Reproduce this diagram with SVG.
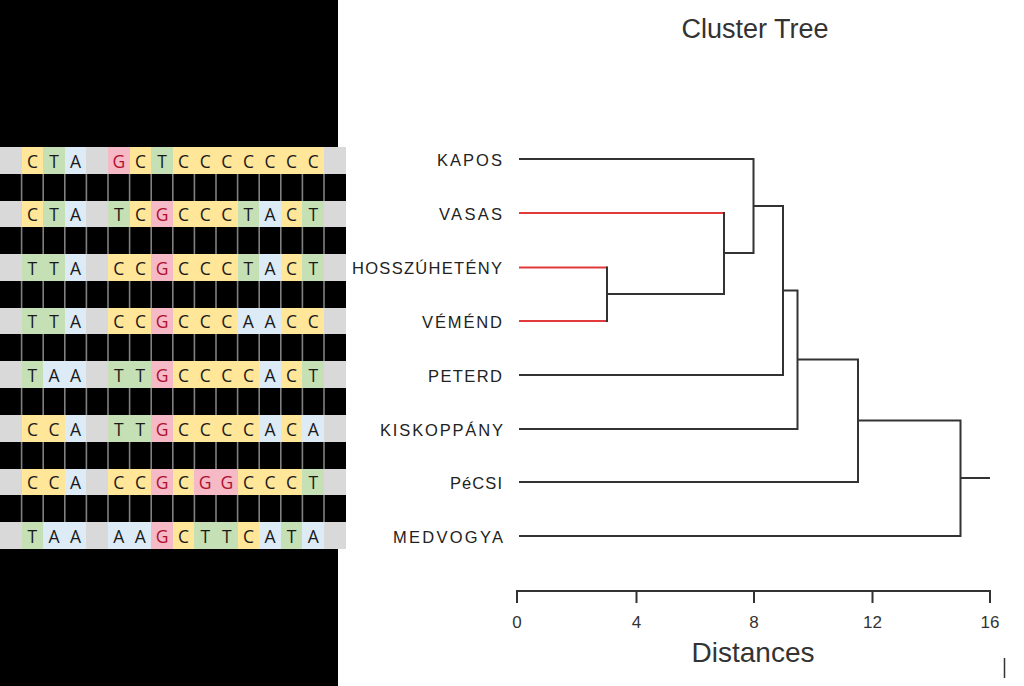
<svg xmlns="http://www.w3.org/2000/svg" width="1024" height="686" viewBox="0 0 1024 686">
<style>
rect{shape-rendering:crispEdges}
.bg{fill:#D9D9D9}
.c{fill:#FFE699}
.t{fill:#C5E0B4}
.a{fill:#DDEBF7}
.g{fill:#F6B9C6}
.l{font-family:"Open Sans","Liberation Sans",sans-serif;font-size:17.5px;fill:#1a1a1a;text-anchor:middle}
.lg{fill:#B0102E}
.lbl{font-family:"Liberation Sans",Arial,sans-serif;font-size:16.5px;fill:#222}
.tick{font-family:"Liberation Sans",Arial,sans-serif;font-size:17px;fill:#333;text-anchor:middle}
.ln{fill:none;stroke:#333;stroke-width:2}
.red{fill:none;stroke:#E23A3A;stroke-width:2}
</style>
<rect x="0" y="0" width="1024" height="686" fill="#FFFFFF"/>
<rect x="0" y="0" width="338" height="686" fill="#000000"/>
<g id="alignment">
<rect x="0" y="147" width="345.6" height="402" fill="#000000"/>
<path d="M21.6 147V549M43.2 147V549M64.8 147V549M86.4 147V549M108 147V549M129.6 147V549M151.2 147V549M172.8 147V549M194.4 147V549M216 147V549M237.6 147V549M259.2 147V549M280.8 147V549M302.4 147V549M324 147V549" stroke="#808080" stroke-width="1.6" fill="none"/>
<g id="seq1" transform="translate(0,147)">
<rect class="bg" width="345.6" height="26.5"/>
<rect class="c" x="21.6" width="21.6" height="26.5"/><rect class="t" x="43.2" width="21.6" height="26.5"/><rect class="a" x="64.8" width="21.6" height="26.5"/>
<rect class="g" x="108" width="21.6" height="26.5"/><rect class="c" x="129.6" width="21.6" height="26.5"/><rect class="t" x="151.2" width="21.6" height="26.5"/><rect class="c" x="172.8" width="151.2" height="26.5"/>
<text class="l" y="20.5"><tspan x="32.4">C</tspan><tspan x="54">T</tspan><tspan x="75.6">A</tspan><tspan x="118.8" class="lg">G</tspan><tspan x="140.4">C</tspan><tspan x="162">T</tspan><tspan x="183.6">C</tspan><tspan x="205.2">C</tspan><tspan x="226.8">C</tspan><tspan x="248.4">C</tspan><tspan x="270">C</tspan><tspan x="291.6">C</tspan><tspan x="313.2">C</tspan></text>
</g>
<g id="seq2" transform="translate(0,200.6)">
<rect class="bg" width="345.6" height="26.5"/>
<rect class="c" x="21.6" width="21.6" height="26.5"/><rect class="t" x="43.2" width="21.6" height="26.5"/><rect class="a" x="64.8" width="21.6" height="26.5"/>
<rect class="t" x="108" width="21.6" height="26.5"/><rect class="c" x="129.6" width="21.6" height="26.5"/><rect class="g" x="151.2" width="21.6" height="26.5"/><rect class="c" x="172.8" width="64.8" height="26.5"/><rect class="t" x="237.6" width="21.6" height="26.5"/><rect class="a" x="259.2" width="21.6" height="26.5"/><rect class="c" x="280.8" width="21.6" height="26.5"/><rect class="t" x="302.4" width="21.6" height="26.5"/>
<text class="l" y="20.5"><tspan x="32.4">C</tspan><tspan x="54">T</tspan><tspan x="75.6">A</tspan><tspan x="118.8">T</tspan><tspan x="140.4">C</tspan><tspan x="162" class="lg">G</tspan><tspan x="183.6">C</tspan><tspan x="205.2">C</tspan><tspan x="226.8">C</tspan><tspan x="248.4">T</tspan><tspan x="270">A</tspan><tspan x="291.6">C</tspan><tspan x="313.2">T</tspan></text>
</g>
<g id="seq3" transform="translate(0,254.2)">
<rect class="bg" width="345.6" height="26.5"/>
<rect class="t" x="21.6" width="43.2" height="26.5"/><rect class="a" x="64.8" width="21.6" height="26.5"/>
<rect class="c" x="108" width="43.2" height="26.5"/><rect class="g" x="151.2" width="21.6" height="26.5"/><rect class="c" x="172.8" width="64.8" height="26.5"/><rect class="t" x="237.6" width="21.6" height="26.5"/><rect class="a" x="259.2" width="21.6" height="26.5"/><rect class="c" x="280.8" width="21.6" height="26.5"/><rect class="t" x="302.4" width="21.6" height="26.5"/>
<text class="l" y="20.5"><tspan x="32.4">T</tspan><tspan x="54">T</tspan><tspan x="75.6">A</tspan><tspan x="118.8">C</tspan><tspan x="140.4">C</tspan><tspan x="162" class="lg">G</tspan><tspan x="183.6">C</tspan><tspan x="205.2">C</tspan><tspan x="226.8">C</tspan><tspan x="248.4">T</tspan><tspan x="270">A</tspan><tspan x="291.6">C</tspan><tspan x="313.2">T</tspan></text>
</g>
<g id="seq4" transform="translate(0,307.8)">
<rect class="bg" width="345.6" height="26.5"/>
<rect class="t" x="21.6" width="43.2" height="26.5"/><rect class="a" x="64.8" width="21.6" height="26.5"/>
<rect class="c" x="108" width="43.2" height="26.5"/><rect class="g" x="151.2" width="21.6" height="26.5"/><rect class="c" x="172.8" width="64.8" height="26.5"/><rect class="a" x="237.6" width="43.2" height="26.5"/><rect class="c" x="280.8" width="43.2" height="26.5"/>
<text class="l" y="20.5"><tspan x="32.4">T</tspan><tspan x="54">T</tspan><tspan x="75.6">A</tspan><tspan x="118.8">C</tspan><tspan x="140.4">C</tspan><tspan x="162" class="lg">G</tspan><tspan x="183.6">C</tspan><tspan x="205.2">C</tspan><tspan x="226.8">C</tspan><tspan x="248.4">A</tspan><tspan x="270">A</tspan><tspan x="291.6">C</tspan><tspan x="313.2">C</tspan></text>
</g>
<g id="seq5" transform="translate(0,361.4)">
<rect class="bg" width="345.6" height="26.5"/>
<rect class="t" x="21.6" width="21.6" height="26.5"/><rect class="a" x="43.2" width="43.2" height="26.5"/>
<rect class="t" x="108" width="43.2" height="26.5"/><rect class="g" x="151.2" width="21.6" height="26.5"/><rect class="c" x="172.8" width="86.4" height="26.5"/><rect class="a" x="259.2" width="21.6" height="26.5"/><rect class="c" x="280.8" width="21.6" height="26.5"/><rect class="t" x="302.4" width="21.6" height="26.5"/>
<text class="l" y="20.5"><tspan x="32.4">T</tspan><tspan x="54">A</tspan><tspan x="75.6">A</tspan><tspan x="118.8">T</tspan><tspan x="140.4">T</tspan><tspan x="162" class="lg">G</tspan><tspan x="183.6">C</tspan><tspan x="205.2">C</tspan><tspan x="226.8">C</tspan><tspan x="248.4">C</tspan><tspan x="270">A</tspan><tspan x="291.6">C</tspan><tspan x="313.2">T</tspan></text>
</g>
<g id="seq6" transform="translate(0,415)">
<rect class="bg" width="345.6" height="26.5"/>
<rect class="c" x="21.6" width="43.2" height="26.5"/><rect class="a" x="64.8" width="21.6" height="26.5"/>
<rect class="t" x="108" width="43.2" height="26.5"/><rect class="g" x="151.2" width="21.6" height="26.5"/><rect class="c" x="172.8" width="86.4" height="26.5"/><rect class="a" x="259.2" width="21.6" height="26.5"/><rect class="c" x="280.8" width="21.6" height="26.5"/><rect class="a" x="302.4" width="21.6" height="26.5"/>
<text class="l" y="20.5"><tspan x="32.4">C</tspan><tspan x="54">C</tspan><tspan x="75.6">A</tspan><tspan x="118.8">T</tspan><tspan x="140.4">T</tspan><tspan x="162" class="lg">G</tspan><tspan x="183.6">C</tspan><tspan x="205.2">C</tspan><tspan x="226.8">C</tspan><tspan x="248.4">C</tspan><tspan x="270">A</tspan><tspan x="291.6">C</tspan><tspan x="313.2">A</tspan></text>
</g>
<g id="seq7" transform="translate(0,468.6)">
<rect class="bg" width="345.6" height="26.5"/>
<rect class="c" x="21.6" width="43.2" height="26.5"/><rect class="a" x="64.8" width="21.6" height="26.5"/>
<rect class="c" x="108" width="43.2" height="26.5"/><rect class="g" x="151.2" width="21.6" height="26.5"/><rect class="c" x="172.8" width="21.6" height="26.5"/><rect class="g" x="194.4" width="43.2" height="26.5"/><rect class="c" x="237.6" width="64.8" height="26.5"/><rect class="t" x="302.4" width="21.6" height="26.5"/>
<text class="l" y="20.5"><tspan x="32.4">C</tspan><tspan x="54">C</tspan><tspan x="75.6">A</tspan><tspan x="118.8">C</tspan><tspan x="140.4">C</tspan><tspan x="162" class="lg">G</tspan><tspan x="183.6">C</tspan><tspan x="205.2" class="lg">G</tspan><tspan x="226.8" class="lg">G</tspan><tspan x="248.4">C</tspan><tspan x="270">C</tspan><tspan x="291.6">C</tspan><tspan x="313.2">T</tspan></text>
</g>
<g id="seq8" transform="translate(0,522.2)">
<rect class="bg" width="345.6" height="26.5"/>
<rect class="t" x="21.6" width="21.6" height="26.5"/><rect class="a" x="43.2" width="43.2" height="26.5"/>
<rect class="a" x="108" width="43.2" height="26.5"/><rect class="g" x="151.2" width="21.6" height="26.5"/><rect class="c" x="172.8" width="21.6" height="26.5"/><rect class="t" x="194.4" width="43.2" height="26.5"/><rect class="c" x="237.6" width="21.6" height="26.5"/><rect class="a" x="259.2" width="21.6" height="26.5"/><rect class="t" x="280.8" width="21.6" height="26.5"/><rect class="a" x="302.4" width="21.6" height="26.5"/>
<text class="l" y="20.5"><tspan x="32.4">T</tspan><tspan x="54">A</tspan><tspan x="75.6">A</tspan><tspan x="118.8">A</tspan><tspan x="140.4">A</tspan><tspan x="162" class="lg">G</tspan><tspan x="183.6">C</tspan><tspan x="205.2">T</tspan><tspan x="226.8">T</tspan><tspan x="248.4">C</tspan><tspan x="270">A</tspan><tspan x="291.6">T</tspan><tspan x="313.2">A</tspan></text>
</g>
</g>
<text x="755" y="38" font-family="Liberation Sans, Arial, sans-serif" font-size="27" fill="#333" text-anchor="middle">Cluster Tree</text>
<g id="leaf-kapos"><text class="lbl" x="437" y="165.5" textLength="65" lengthAdjust="spacing">KAPOS</text></g>
<g id="leaf-vasas"><text class="lbl" x="439" y="219.5" textLength="63" lengthAdjust="spacing">VASAS</text></g>
<g id="leaf-hosszuheteny"><text class="lbl" x="352" y="273.5" textLength="150" lengthAdjust="spacing">HOSSZÚHETÉNY</text></g>
<g id="leaf-vemend"><text class="lbl" x="422" y="327.5" textLength="80" lengthAdjust="spacing">VÉMÉND</text></g>
<g id="leaf-peterd"><text class="lbl" x="428" y="381.5" textLength="74" lengthAdjust="spacing">PETERD</text></g>
<g id="leaf-kiskoppany"><text class="lbl" x="380" y="435.5" textLength="123" lengthAdjust="spacing">KISKOPPÁNY</text></g>
<g id="leaf-pecsi"><text class="lbl" x="450" y="488.5" textLength="52" lengthAdjust="spacing">PéCSI</text></g>
<g id="leaf-medvogya"><text class="lbl" x="393" y="542.5" textLength="110" lengthAdjust="spacing">MEDVOGYA</text></g>
<g id="connectors">
<path class="red" d="M519 213H724M519 267.5H607M519 321H607"/>
<path class="ln" d="M519 159H753.5M607 266.5V322M607 294H724M724 212V295M724 253H753.5M753.5 158V254M753.5 206H783M519 375H783M783 205V376M783 290.5H797.5M519 429H797.5M797.5 289.5V430M797.5 359.5H858M519 482H858M858 358.5V483M858 420.5H960.5M519 536H960.5M960.5 419.5V537M960.5 478H990"/>
</g>
<g id="axis">
<path class="ln" d="M517 591H990M517 590V603M636.5 590V603M754 590V603M872.5 590V603M990 590V603"/>
<text class="tick" x="517" y="628">0</text>
<text class="tick" x="636.5" y="628">4</text>
<text class="tick" x="754" y="628">8</text>
<text class="tick" x="872.5" y="628">12</text>
<text class="tick" x="990" y="628">16</text>
<text x="753" y="662" font-family="Liberation Sans, Arial, sans-serif" font-size="28" fill="#333" text-anchor="middle">Distances</text>
<path d="M1004.5 658V678" stroke="#333" stroke-width="1.5"/>
</g>
</svg>
